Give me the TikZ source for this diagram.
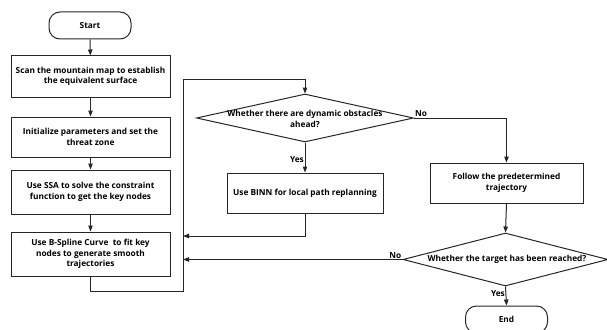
\documentclass[tikz,border=0pt]{standalone}
\usepackage{fontspec}
\setmainfont{Open Sans}
\usetikzlibrary{arrows.meta,shapes.geometric}
\begin{document}
\begin{tikzpicture}[x=1pt,y=-1pt,
  every node/.style={font=\fontsize{8.3}{10.5}\selectfont\bfseries, text=black},
  ln/.style={draw=black!85, line width=1pt},
  arr/.style={ln, -{Triangle[length=6pt,width=4.5pt]}},
  procbox/.style={ln, rectangle, inner sep=0pt, align=center},
  termbox/.style={ln, rectangle, rounded corners=11pt, minimum width=82pt, minimum height=27pt, inner sep=0pt},
  dia/.style={ln, diamond, inner sep=0pt},
  lbl/.style={inner sep=1pt}
]
\useasboundingbox (0,0) rectangle (607,329);

\node[termbox] (start) at (90,25.5) {Start};
\node[procbox, minimum width=159pt, minimum height=41pt] (b1) at (90.5,76.5) {Scan the mountain map to establish\\the equivalent surface};
\node[procbox, minimum width=159pt, minimum height=40pt] (b2) at (90.5,137) {Initialize parameters and set the\\threat zone};
\node[procbox, minimum width=159pt, minimum height=44pt] (b3) at (90.5,192) {Use SSA to solve the constraint\\function to get the key nodes};
\node[procbox, minimum width=159pt, minimum height=44pt] (b4) at (90.5,254) {Use B-Spline Curve\ \ to fit key\\nodes to generate smooth\\trajectories};

\node[dia, minimum width=217pt, minimum height=48pt] (d1) at (305,118) {};
\node[align=center, inner sep=0pt] (d1t) at (305,119) {Whether there are dynamic obstacles\\ahead?};

\node[procbox, minimum width=156pt, minimum height=40pt] (binn) at (305,193) {Use BINN for local path replanning};
\node[procbox, minimum width=153pt, minimum height=40pt] (follow) at (506.5,183) {Follow the predetermined\\trajectory};

\node[dia, minimum width=205pt, minimum height=53pt] (d2) at (505.5,259.5) {};
\node[inner sep=0pt] (d2t) at (507,259) {Whether the target has been reached?};

\node[termbox] (end) at (506.5,319.5) {End};

\coordinate (lb) at (183,291);
\coordinate (lt) at (183,79);
\coordinate (j1) at (183,236);
\coordinate (j2) at (183,259.5);

\draw[arr] (start) -- (b1);
\draw[arr] (b1) -- (b2);
\draw[arr] (b2) -- (b3);
\draw[arr] (b3) -- (b4);
\draw[arr] (b4.south) |- (lb) -- (lt) -| (d1.north);
\draw[arr] (d1.east) -| (follow.north);
\draw[arr] (d1.south) -- (binn.north);
\draw[arr] (binn.south) |- (j1);
\draw[arr] (follow.south) -- (d2.north);
\draw[arr] (d2.west) -- (j2);
\draw[arr] (d2.south) -- (end.north);

\node[lbl, anchor=south west] (no1) at (d1.east) {No};
\node[lbl, anchor=east] (yes1) at (305,160) {Yes};
\node[lbl, anchor=south east] (no2) at (d2.west) {No};
\node[lbl, anchor=east] (yes2) at (506,293.5) {Yes};
\end{tikzpicture}
\end{document}
